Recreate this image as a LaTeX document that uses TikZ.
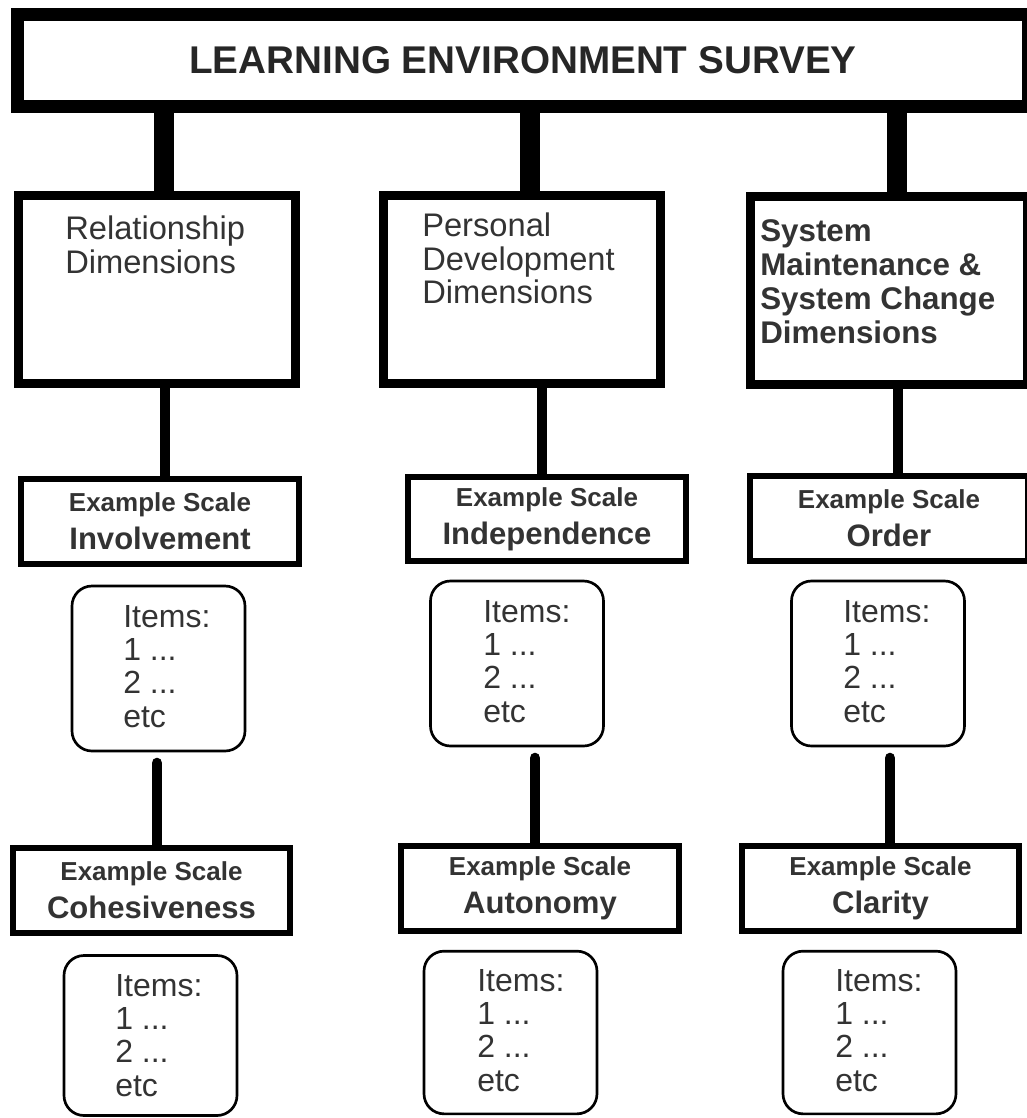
\documentclass[tikz,border=0pt]{standalone}
\usepackage{fontspec}
\setmainfont{Liberation Sans}
\usepackage{amsmath,amssymb}

\begin{document}
\begin{tikzpicture}[x=0.75pt,y=0.75pt,yscale=-1,xscale=1,
  surveybox/.style={draw, line width=9.75pt, inner sep=0pt, minimum width=758.25pt, minimum height=69pt, text=black!85, font=\fontsize{29}{34}\selectfont\bfseries},
  dimbox/.style={draw, line width=6.75pt, minimum width=207.75pt, minimum height=141pt},
  dimtext/.style={align=left, inner sep=0pt, anchor=north west, text=black!80, font=\fontsize{24.5}{25}\selectfont},
  scalebox/.style={draw, line width=4.5pt, minimum width=208pt, minimum height=63.5pt, align=center, text=black!80, font=\fontsize{19.5}{28.5}\selectfont\bfseries},
  itembox/.style={draw, line width=2pt, rounded corners=15pt, minimum width=129.75pt, minimum height=123.75pt},
  itemtext/.style={align=left, inner sep=0pt, anchor=north west, text=black!80, font=\fontsize{24}{25}\selectfont},
  topbar/.style={line width=15.5pt},
  midbar/.style={line width=8pt},
  lowbar/.style={line width=8pt, line cap=round, shorten >=8pt}]
\useasboundingbox (0,0) rectangle (1027,1118);

\newcommand\scalename{\fontsize{23.3}{28.5}\selectfont}

% Shape: Rectangle
\node (survey) [surveybox] at (523,60.5) {LEARNING ENVIRONMENT SURVEY};

% Shape: Rectangle
\node (dim1) [dimbox] at (157,289.5) {};
\node (dim2) [dimbox] at (521.5,289) {};
\node (dim3) [dimbox] at (888.5,290) {};
% Text Node
\node (dim1t) [dimtext] at (65,216) {Relationship\\Dimensions};
% Text Node
\node (dim2t) [dimtext] at (422,213) {Personal\\Development\\Dimensions};
% Text Node
\node (dim3t) [dimtext, font=\fontsize{23.5}{25.5}\selectfont\bfseries] at (760,219) {System\\Maintenance \&\\System Change\\Dimensions};

% Shape: Rectangle
\node (sc1) [scalebox] at (160,521.5) {Example Scale\\\scalename Involvement};
\node (sc2) [scalebox] at (547,519) {Example Scale\\\scalename Independence};
\node (sc3) [scalebox] at (889,518.5) {Example Scale\\\scalename Order};

% Shape: Rounded Rect
\node (it1) [itembox] at (158.5,668.5) {};
\node (it2) [itembox] at (517,663.5) {};
\node (it3) [itembox] at (878,663.5) {};
% Text Node
\node (it1t) [itemtext] at (123,605) {Items:\\1 ...\\2 ...\\etc};
\node (it2t) [itemtext] at (483,600) {Items:\\1 ...\\2 ...\\etc};
\node (it3t) [itemtext] at (843,600) {Items:\\1 ...\\2 ...\\etc};

% Shape: Rectangle
\node (sc4) [scalebox] at (151.5,890.5) {Example Scale\\\scalename Cohesiveness};
\node (sc5) [scalebox] at (540,888.5) {Example Scale\\\scalename Autonomy};
\node (sc6) [scalebox] at (880.5,888.5) {Example Scale\\\scalename Clarity};

% Shape: Rounded Rect
\node (it4) [itembox, minimum height=120pt] at (150.5,1035.5) {};
\node (it5) [itembox, minimum height=122pt] at (510.5,1032.5) {};
\node (it6) [itembox, minimum height=122pt] at (869.5,1032.5) {};
% Text Node
\node (it4t) [itemtext] at (115,974) {Items:\\1 ...\\2 ...\\etc};
\node (it5t) [itemtext] at (477,969) {Items:\\1 ...\\2 ...\\etc};
\node (it6t) [itemtext] at (835,969) {Items:\\1 ...\\2 ...\\etc};

% Connection
\draw [topbar] ([xshift=5.25pt]dim1.north) -- ([xshift=5.25pt]dim1.north |- survey.south);
\draw [topbar] ([xshift=6.4pt]dim2.north) -- ([xshift=6.4pt]dim2.north |- survey.south);
\draw [topbar] ([xshift=6.4pt]dim3.north) -- ([xshift=6.4pt]dim3.north |- survey.south);

% Connection
\draw [midbar] ([xshift=3.75pt]sc1.north) -- ([xshift=3.75pt]sc1.north |- dim1.south);
\draw [midbar] ([xshift=-3.75pt]sc2.north) -- ([xshift=-3.75pt]sc2.north |- dim2.south);
\draw [midbar] ([xshift=6.75pt]sc3.north) -- ([xshift=6.75pt]sc3.north |- dim3.south);

% Connection
\draw [lowbar] ([xshift=4.1pt]sc4.north) -- ([xshift=4.1pt]sc4.north |- it1.south);
\draw [lowbar] ([xshift=-3.75pt]sc5.north) -- ([xshift=-3.75pt]sc5.north |- it2.south);
\draw [lowbar] ([xshift=7.1pt]sc6.north) -- ([xshift=7.1pt]sc6.north |- it3.south);

\end{tikzpicture}
\end{document}
